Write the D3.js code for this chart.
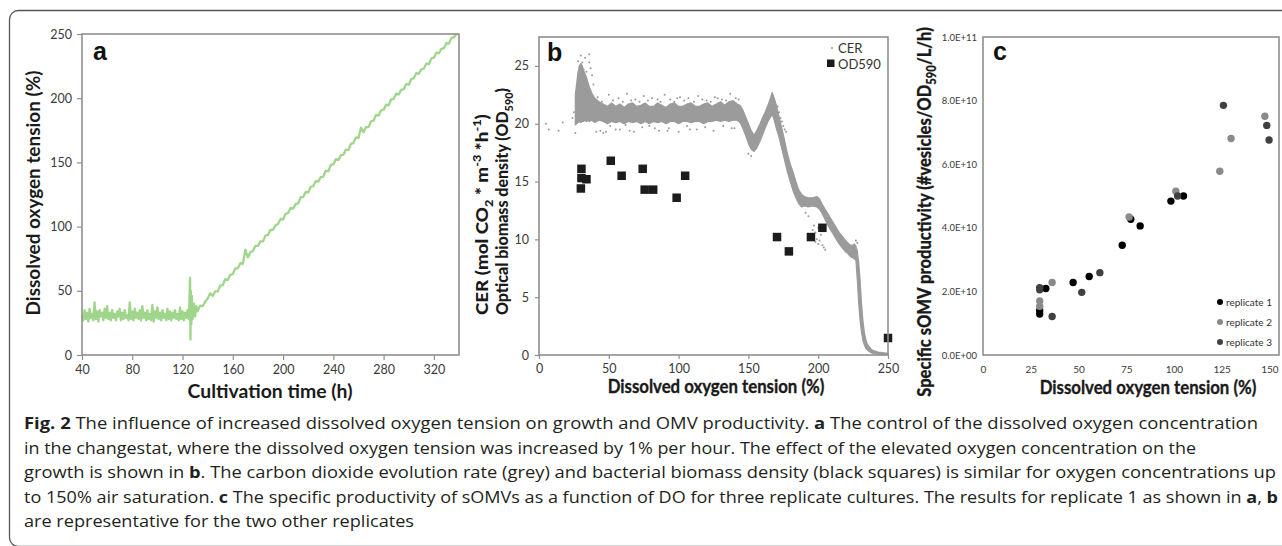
<!DOCTYPE html>
<html>
<head>
<meta charset="utf-8">
<script src="https://cdn.jsdelivr.net/npm/d3@7"></script>
<style>
  body { margin: 0; background: #fff; }
  svg { display: block; }
</style>
</head>
<body>
<svg id="fig" width="1282" height="546"></svg>
<script>
// ---- panel a: dissolved oxygen tension (%) vs cultivation time (h) ----
const doTime = [
  40,41,42,43,44,45,46,47,48,49, 50,51,52,53,54,55,56,57,58,59,
  60,61,62,63,64,65,66,67,68,69, 70,71,72,73,74,75,76,77,78,79,
  80,81,82,83,84,85,86,87,88,89, 90,91,92,93,94,95,96,97,98,99,
  100,101,102,103,104,105,106,107,108,109, 110,111,112,113,114,115,116,117,118,119,
  120,121,122,123,124,125,
  126,126.3,126.6,127,127.4,128,129,130,131,132,
  134,136,138,140,142,144,146,148,150,152,154,156,158,160,162,164,166,168,170,172,
  174,176,178,180,182,184,186,188,190,192,194,196,198,200,202,204,206,208,210,212,
  214,216,218,220,222,224,226,228,230,232,234,236,238,240,242,244,246,248,250,252,
  254,256,258,260,262,264,266,268,270,272,274,276,278,280,282,284,286,288,290,292,
  294,296,298,300,302,304,306,308,310,312,314,316,318,320,322,324,326,328,330,332,
  334,336,338
];
const doValue = [
  31,27,35,28,33,26,36,29,32,27, 41,28,34,26,35,30,33,27,36,29,
  38,28,33,27,35,29,32,27,34,30, 36,27,33,28,35,29,31,27,41,28,
  34,27,36,29,33,28,35,27,38,29, 33,27,35,28,32,27,39,26,34,29,
  37,28,33,27,35,29,32,27,36,28, 34,27,33,29,35,28,32,27,37,28,
  34,27,33,29,35,28,
  60,12,50,24,46,28,40,30,38,34,
  38.5,38,41.5,44,48,46,49.5,49.5,54,54.5,59,58.5,62.5,63,67.5,67.5,71.5,71,82,76,
  80,81,85,85,88.5,88.5,93,93.5,97.5,97.5,101,102,106,105.5,110,110.5,114.5,114,117.5,118,
  123,123,127,126.5,131,131.5,135.5,135,138.5,139,143.5,143,148,148.5,152.5,152,155.5,156,160,159.5,
  164.5,165,169.5,169,177,173.5,177.5,177.5,182,182.5,187,186.5,190.5,191,195,194.5,199,199.5,203.5,203,
  206.5,207,211,210.5,215,215.5,219.5,219,222.5,223,227,226.5,231,231.5,235.5,235,238.5,239,243,242.5,
  247,247.5,250
];
const aTicksX = [40, 80, 120, 160, 200, 240, 280, 320];
const aTicksY = [0, 50, 100, 150, 200, 250];

// ---- panel b: CER band (grey) and OD590 (black squares) vs DO (%) ----
const cerX  = [26,27,28,29,30,31,32,33,34,35,36,38,40,43,46,49,52,55,58,61,64,67,70,73,76,79,82,85,88,91,94,97,100,103,106,109,112,115,118,121,124,127,130,133,136,139,142,144,146,148,150,152,154,156,158,160,162,164,166,167,168,170,172,174,176,178,180,182,184,186,188,190,193,196,199,201,203,205,207,209,211,213,215,217,219,221,223,225,226,227,228,229,230,231,232,233,234,235,236,238,240,243,246,250];
const cerHi = [22.5,23.5,24.5,25.0,25.2,25.0,24.6,24.3,24.0,23.6,23.2,22.6,22.2,21.9,21.7,21.5,21.8,21.5,21.7,21.4,21.7,21.8,21.5,21.6,21.8,21.5,21.5,21.8,21.6,21.4,21.7,21.8,21.5,21.5,21.7,21.8,21.5,21.5,21.7,21.8,21.5,21.7,21.9,21.6,21.9,22.0,21.7,21.6,21.2,20.6,20.0,19.4,19.0,19.4,19.9,20.5,21.0,21.6,22.3,22.7,22.4,21.6,20.6,19.6,18.5,17.4,16.5,15.8,15.0,14.3,13.9,13.7,13.6,13.6,13.7,13.5,13.0,12.6,12.2,11.8,11.4,11.0,10.6,10.3,10.0,9.7,9.5,9.5,9.6,9.4,9.0,8.0,6.5,4.5,3.0,2.0,1.4,1.0,0.8,0.5,0.35,0.25,0.2,0.15];
const cerLo = [19.9,20.0,20.1,20.2,20.1,20.2,20.2,20.3,20.2,20.3,20.2,20.3,20.1,20.3,20.2,20.0,20.2,20.1,20.2,20.0,20.2,20.1,20.2,20.0,20.2,20.0,20.2,20.1,20.2,20.0,20.2,20.2,20.0,20.2,20.2,20.1,20.2,20.2,20.0,20.2,20.2,20.3,20.2,20.3,20.2,20.3,20.3,20.1,19.6,19.0,18.3,17.8,17.6,17.9,18.4,19.0,19.6,20.2,20.6,20.8,20.5,19.6,18.8,17.8,16.8,15.8,15.0,14.2,13.6,13.1,12.8,12.9,12.8,12.9,12.8,12.6,12.2,11.7,11.2,10.8,10.4,10.0,9.6,9.3,9.0,8.8,8.5,8.4,8.3,8.2,6.5,4.5,3.0,2.0,1.3,0.9,0.6,0.45,0.35,0.2,0.12,0.08,0.05,0.03];
// loose CER readings outside the dense band
const cerDotX = [5,7,14,17,24,25,26,27,28,29,30,31,32,33,34,36,36,37,38,39,41,46,48,55,65,66,83,85,92,99,108,120,128,131,138,150,152,171,172,173,174,175,176,177,191,193,195,196,197,198,198,199,200,200,201,202,203,203,204,205,227,228,
  42,45,50,53,57,60,63,69,72,75,78,81,87,90,94,97,101,104,107,111,114,117,123,126,134,137,141,143,
  44,51,58,62,68,74,79,86,93,100,106,113,119,125,132,140];
const cerDotY = [20.0,19.5,19.4,20.1,20.5,21.0,19.2,20.8,25.4,24.9,25.9,25.3,24.7,25.7,24.5,26.0,25.3,24.8,24.2,23.4,19.3,19.2,19.3,19.5,19.4,22.0,19.6,22.1,19.4,22.2,19.5,22.0,22.2,22.1,19.6,17.4,17.2,21.5,21.0,20.5,20.2,19.8,19.5,19.3,12.3,12.0,10.2,10.8,11.2,10.6,9.8,10.0,9.6,11.0,9.9,10.4,9.5,10.8,9.3,9.1,9.9,9.7,
  22.3,21.9,22.5,22.0,22.2,21.9,22.6,22.1,21.9,22.4,22.0,22.2,21.9,22.5,22.1,21.9,22.3,22.0,22.2,21.9,22.4,22.1,21.9,22.3,22.0,22.6,22.2,22.1,
  19.4,19.8,19.5,19.9,19.3,19.7,19.8,19.4,19.6,19.3,19.8,19.5,19.7,19.4,19.8,19.6];
const odX = [30.4,30.4,34,30,51.4,59.2,74.3,75.7,81.8,98.6,104.7,170.5,179,194.8,203,250];
const odY = [16.1,15.3,15.2,14.4,16.8,15.5,16.1,14.3,14.3,13.6,15.5,10.2,8.96,10.2,11.0,1.47];
const bTicksX = [0, 50, 100, 150, 200, 250];
const bTicksY = [0, 5, 10, 15, 20, 25];

// ---- panel c: specific sOMV productivity vs DO (%) ----
const rep1X = [29.7,29.7,32.9,47.2,55.6,72.9,77.4,82.3,98.4,105];
const rep1Y = [1.29e10,1.40e10,2.09e10,2.28e10,2.47e10,3.45e10,4.27e10,4.06e10,4.84e10,5.0e10];
const rep2X = [29.7,29.7,36.2,76.5,101,124,129.9,147.6];
const rep2Y = [1.70e10,1.53e10,2.28e10,4.34e10,5.15e10,5.78e10,6.81e10,7.51e10];
const rep3X = [29.7,29.7,36.2,51.7,61.2,101.9,125.9,148.6,149.8];
const rep3Y = [2.12e10,2.05e10,1.21e10,1.97e10,2.59e10,5.0e10,7.85e10,7.22e10,6.76e10];
const cTicksX = [0, 25, 50, 75, 100, 125, 150];
const cTicksY = [0, 2e10, 4e10, 6e10, 8e10, 1e11];
const repNames = ["replicate 1", "replicate 2", "replicate 3"];
const repColors = ["#000000", "#8a8a8a", "#404040"];

// ---- caption ----
const captionLines = [
  [["Fig. 2", true], ["  The influence of increased dissolved oxygen tension on growth and OMV productivity. ", false], ["a", true], [" The control of the dissolved oxygen concentration", false]],
  [["in the changestat, where the dissolved oxygen tension was increased by 1% per hour. The effect of the elevated oxygen concentration on the", false]],
  [["growth is shown in ", false], ["b", true], [". The carbon dioxide evolution rate (grey) and bacterial biomass density (black squares) is similar for oxygen concentrations up", false]],
  [["to 150% air saturation. ", false], ["c", true], [" The specific productivity of sOMVs as a function of DO for three replicate cultures. The results for replicate 1 as shown in ", false], ["a", true], [", ", false], ["b", true]],
  [["are representative for the two other replicates", false]]
];
const captionWidths = [1234, 1172, 1252, 1254, 390];

const svg = d3.select("#fig");
const chartFont = "Lato, 'Open Sans', sans-serif";
const frameGrey = "#8f8f8f";

// squeeze a label along its own direction to the width it has in the figure;
// a little outline keeps the squeezed bold stems as heavy as the original
function fit(sel, target) {
  const w = sel.node().getComputedTextLength();
  const s = target / w;
  sel.attr("transform", sel.attr("transform") + ` scale(${s},1)`);
  if (s < 0.95) {
    sel.attr("stroke", "#1a1a1a").attr("stroke-width", (1 - s) * 3);
  }
}

// outer figure frame
svg.append("rect")
  .attr("x", 9.5).attr("y", 10.5)
  .attr("width", 1300).attr("height", 536)
  .attr("rx", 9)
  .attr("fill", "none")
  .attr("stroke", "#555")
  .attr("stroke-width", 1.3);

function plotFrame(x, y) {
  svg.append("rect")
    .attr("x", x.range()[0]).attr("y", y.range()[1])
    .attr("width", x.range()[1] - x.range()[0])
    .attr("height", y.range()[0] - y.range()[1])
    .attr("fill", "none")
    .attr("stroke", frameGrey)
    .attr("stroke-width", 1.6);
}

function styleAxis(g, size) {
  g.select(".domain").remove();
  g.selectAll(".tick line").attr("stroke", frameGrey).attr("stroke-width", 1.2);
  g.selectAll(".tick text")
    .attr("fill", "#3a3a3a")
    .style("font-family", chartFont)
    .style("font-size", size + "px");
}

function panelLetter(x, y, s) {
  svg.append("text")
    .attr("x", x).attr("y", y)
    .attr("font-family", "'Liberation Sans', Arial, sans-serif")
    .attr("font-weight", "bold")
    .attr("font-size", 25)
    .attr("fill", "#111")
    .text(s);
}

function title(x, y, size, rotate) {
  return svg.append("text")
    .attr("transform", `translate(${x},${y})` + (rotate ? " rotate(-90)" : ""))
    .attr("text-anchor", "middle")
    .attr("font-family", chartFont)
    .style("font-weight", "700")
    .attr("font-size", size).attr("fill", "#1a1a1a");
}

// rich label: list of [text, "sub"|"sup"|undefined], shifted with dy
function rich(t, parts, size) {
  let shift = 0;
  parts.forEach(([s, kind]) => {
    const target = kind === "sub" ? 0.3 * size : kind === "sup" ? -0.4 * size : 0;
    t.append("tspan")
      .attr("dy", target - shift)
      .style("font-weight", "900")
      .attr("font-size", kind ? size * 0.68 : size)
      .text(s);
    shift = target;
  });
  return t;
}

// ================= panel a =================
const ax = d3.scaleLinear().domain([40, 340]).range([82, 459]);
const ay = d3.scaleLinear().domain([0, 250]).range([355, 34]);

svg.append("g")
  .attr("transform", `translate(0,${ay.range()[0]})`)
  .call(d3.axisBottom(ax).tickValues(aTicksX).tickSize(5).tickPadding(5))
  .call(g => styleAxis(g, 12.5));
svg.append("g")
  .attr("transform", `translate(${ax.range()[0]},0)`)
  .call(d3.axisLeft(ay).tickValues(aTicksY).tickSize(5).tickPadding(5))
  .call(g => styleAxis(g, 12.5));

svg.append("path")
  .datum(doTime.map((t, i) => [t, doValue[i]]))
  .attr("fill", "none")
  .attr("stroke", "#9fd68b")
  .attr("stroke-width", 2.3)
  .attr("stroke-linejoin", "round")
  .attr("d", d3.line().x(d => ax(d[0])).y(d => ay(d[1])));

plotFrame(ax, ay);
panelLetter(93, 60, "a");

fit(title(270, 398, 19.5, false).text("Cultivation time (h)"), 165);
fit(title(40, 193, 19.5, true).text("Dissolved oxygen tension (%)"), 245);

// ================= panel b =================
const bx = d3.scaleLinear().domain([0, 250]).range([539, 888]);
const by = d3.scaleLinear().domain([0, 27.5]).range([355, 37]);

svg.append("g")
  .attr("transform", `translate(0,${by.range()[0]})`)
  .call(d3.axisBottom(bx).tickValues(bTicksX).tickSize(4).tickPadding(5))
  .call(g => styleAxis(g, 12.5));
svg.append("g")
  .attr("transform", `translate(${bx.range()[0]},0)`)
  .call(d3.axisLeft(by).tickValues(bTicksY).tickSize(4).tickPadding(6))
  .call(g => styleAxis(g, 12.5));

const cerBand = cerX.map((x, i) => ({x: x, lo: cerLo[i], hi: cerHi[i]}));
svg.append("path")
  .datum(cerBand)
  .attr("fill", "#9b9b9b")
  .attr("stroke", "#9b9b9b")
  .attr("stroke-width", 1.2)
  .attr("stroke-linejoin", "round")
  .attr("d", d3.area().x(d => bx(d.x)).y0(d => by(d.lo)).y1(d => by(d.hi)));

svg.append("g").selectAll("circle")
  .data(cerDotX.map((x, i) => [x, cerDotY[i]]))
  .join("circle")
  .attr("cx", d => bx(d[0])).attr("cy", d => by(d[1]))
  .attr("r", 1)
  .attr("fill", "#999");

const sq = 8.5;
svg.append("g").selectAll("rect")
  .data(odX.map((x, i) => [x, odY[i]]))
  .join("rect")
  .attr("x", d => bx(d[0]) - sq / 2).attr("y", d => by(d[1]) - sq / 2)
  .attr("width", sq).attr("height", sq)
  .attr("fill", "#1c1c1c");

plotFrame(bx, by);
panelLetter(547, 61, "b");

// legend b
svg.append("circle").attr("cx", 832).attr("cy", 48).attr("r", 1).attr("fill", "#999");
svg.append("text").attr("x", 838).attr("y", 48).attr("dominant-baseline", "central")
  .attr("font-family", chartFont).attr("font-size", 13).attr("fill", "#333").text("CER");
svg.append("rect").attr("x", 827).attr("y", 59.5).attr("width", 7.5).attr("height", 7.5).attr("fill", "#1c1c1c");
svg.append("text").attr("x", 838).attr("y", 63.5).attr("dominant-baseline", "central")
  .attr("font-family", chartFont).attr("font-size", 13).attr("fill", "#333").text("OD590");

fit(title(716, 393, 19, false).text("Dissolved oxygen tension (%)"), 217);

const bl1 = rich(title(488, 315, 16.5, true).attr("text-anchor", "start"),
  [["CER (mol CO"], ["2", "sub"], [" * m"], ["-3", "sup"], [" *h"], ["-1", "sup"], [")"]], 16.5);
fit(bl1, 201);

const bl2 = rich(title(508, 315, 16.5, true).attr("text-anchor", "start"),
  [["Optical biomass density (OD"], ["590", "sub"], [")"]], 16.5);
fit(bl2, 227);

// ================= panel c =================
const cx = d3.scaleLinear().domain([0, 155]).range([983, 1279]);
const cy = d3.scaleLinear().domain([0, 1e11]).range([355, 37]);

const sci = d => {
  if (d === 0) return "0.0E+00";
  const e = Math.floor(Math.log10(d));
  return (d / Math.pow(10, e)).toFixed(1) + "E+" + String(e).padStart(2, "0");
};

svg.append("g")
  .attr("transform", `translate(0,${cy.range()[0]})`)
  .call(d3.axisBottom(cx).tickValues(cTicksX).tickSize(0).tickPadding(11))
  .call(g => styleAxis(g, 10));
svg.append("g")
  .attr("transform", `translate(${cx.range()[0]},0)`)
  .call(d3.axisLeft(cy).tickValues(cTicksY).tickFormat(sci).tickSize(0).tickPadding(6))
  .call(g => styleAxis(g, 9.5));

const reps = [[rep1X, rep1Y], [rep2X, rep2Y], [rep3X, rep3Y]];
reps.forEach(([xs, ys], k) => {
  svg.append("g").selectAll("circle")
    .data(xs.map((x, i) => [x, ys[i]]))
    .join("circle")
    .attr("cx", d => cx(d[0])).attr("cy", d => cy(d[1]))
    .attr("r", 3.7)
    .attr("fill", repColors[k]);
});

plotFrame(cx, cy);
panelLetter(993, 60, "c");

// legend c
repNames.forEach((name, k) => {
  const yy = 302 + k * 20;
  svg.append("circle").attr("cx", 1220).attr("cy", yy).attr("r", 3).attr("fill", repColors[k]);
  svg.append("text").attr("x", 1226).attr("y", yy).attr("dominant-baseline", "central")
    .attr("font-family", chartFont).attr("font-size", 10).attr("fill", "#333").text(name);
});

fit(title(1148, 394, 19, false).text("Dissolved oxygen tension (%)"), 217);

const cl = rich(title(931, 212, 18, true),
  [["Specific sOMV productivity (#vesicles/OD"], ["590", "sub"], ["/L/h)"]], 18);
fit(cl, 370);

// ================= caption =================
captionLines.forEach((segs, i) => {
  const t = svg.append("text")
    .attr("x", 24).attr("y", 429 + i * 24.5)
    .attr("font-family", "'Open Sans', 'Noto Sans', sans-serif")
    .attr("font-size", 16)
    .attr("fill", "#231f20")
    .attr("textLength", captionWidths[i])
    .attr("lengthAdjust", "spacingAndGlyphs");
  segs.forEach(([s, b]) => {
    t.append("tspan").attr("font-weight", b ? "bold" : "normal").text(s);
  });
});
</script>
</body>
</html>
